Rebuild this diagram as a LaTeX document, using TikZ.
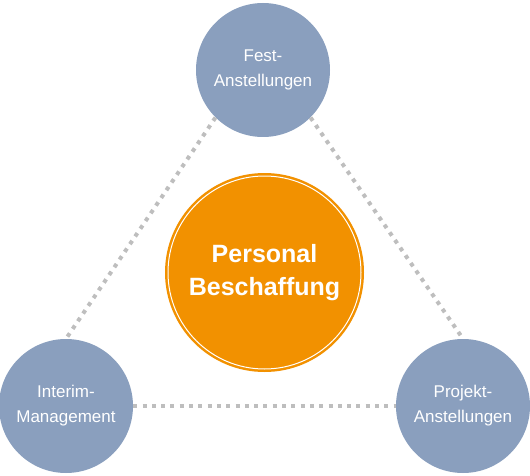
\documentclass[tikz,border=0pt]{standalone}
\usepackage{fontspec}
\setmainfont{Liberation Sans}
\usetikzlibrary{positioning}
\definecolor{slateblue}{RGB}{138,159,190}
\definecolor{hrorange}{RGB}{242,145,0}
\definecolor{dotgray}{RGB}{190,190,190}

\begin{document}
\begin{tikzpicture}[
    x=1pt, y=-1pt,
    every node/.style={font=\fontsize{17}{25}\selectfont, text=white},
    kind/.style={circle, fill=slateblue, minimum size=134pt, inner sep=0pt, align=center},
    core/.style={circle, fill=hrorange, minimum size=199pt, inner sep=0pt, align=center,
        font=\fontsize{25}{33}\selectfont\bfseries},
    link/.style={draw=dotgray, line width=4pt, dash pattern=on 4pt off 5.3pt}
]
\useasboundingbox (0,0) rectangle (530,476);
\node[kind] (fix) at (263,70) {Fest-\\Anstellungen};
\node[kind] (interim) at (66,406) {Interim-\\Management};
\node[kind] (projekt) at (463,406) {Projekt-\\Anstellungen};
\node[core] (core) at (264.5,272.5) {Personal\\Beschaffung};
\draw[white, line width=1pt] (core.center) circle[radius=96.5];
% dotted links between the outer circles
\draw[link] (fix.south west) -- (interim.north);
\draw[link] (fix.south east) -- (projekt.north);
\draw[link] (interim.east) -- (projekt.west);
\end{tikzpicture}
\end{document}
